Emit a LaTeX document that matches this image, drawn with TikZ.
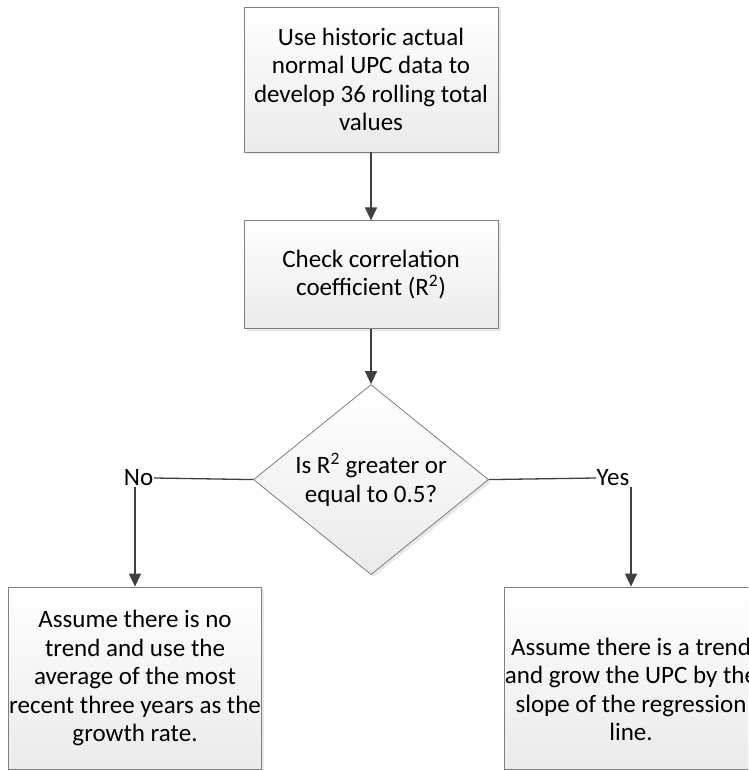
\documentclass[tikz,border=0pt]{standalone}
\usepackage{fontspec}
\setmainfont{Carlito}
\usepackage{xcolor}
\usetikzlibrary{positioning, arrows.meta, shapes.geometric, shadows}

\definecolor{edgegray}{HTML}{7F7F7F}
\definecolor{arrgray}{HTML}{404040}

\begin{document}
\begin{tikzpicture}[x=1pt, y=1pt,
    box/.style={draw=edgegray, line width=0.8pt, align=center,
                top color=white, bottom color=black!8,
                drop shadow={shadow xshift=2.5pt, shadow yshift=-2.5pt, fill=black!18},
                font=\fontsize{25}{28.5}\selectfont, inner sep=1pt},
    decision/.style={box, diamond, aspect=1.24, inner sep=0pt},
    lbl/.style={font=\fontsize{25}{28.5}\selectfont, inner sep=0.5pt},
    link/.style={arrgray, line width=1.3pt},
    arr/.style={link, -{Triangle[length=13pt, width=12pt]}}
  ]
  \useasboundingbox (0,0) rectangle (748,770);
  \clip (0,0) rectangle (748,770);

  \node[box, minimum width=254pt, minimum height=145pt] (hist) at (371,690.5)
    {Use historic actual\\normal UPC data to\\develop 36 rolling total\\values};
  \node[box, minimum width=254pt, minimum height=108pt, below=68pt of hist] (corr)
    {Check correlation\\coefficient (R\textsuperscript{2})};
  \node[decision, minimum width=235pt, minimum height=190pt, below=55pt of corr] (dec)
    {Is R\textsuperscript{2} greater or\\equal to 0.5?};
  \node[lbl, anchor=east] (no) at (154,292) {No};
  \node[lbl, anchor=west] (yes) at (596,292) {Yes};
  \node[box, minimum width=252pt, minimum height=182pt] (lowl) at (135,92)
    {Assume there is no\\trend and use the\\average of the most\\recent three years as the\\growth rate.};
  \node[box, minimum width=252pt, minimum height=182pt, text height=126pt] (lowr) at (631,92)
    {Assume there is a trend\\and grow the UPC by the\\slope of the regression\\line.};

  \draw[arr] (hist) -- (corr);
  \draw[arr] (corr) -- (dec);
  \draw[link] (dec.west) -- (no.east);
  \draw[link] (dec.east) -- (yes.west);
  \draw[arr] (no.south -| lowl.north) -- (lowl.north);
  \draw[arr] (yes.south -| lowr.north) -- (lowr.north);
\end{tikzpicture}
\end{document}
